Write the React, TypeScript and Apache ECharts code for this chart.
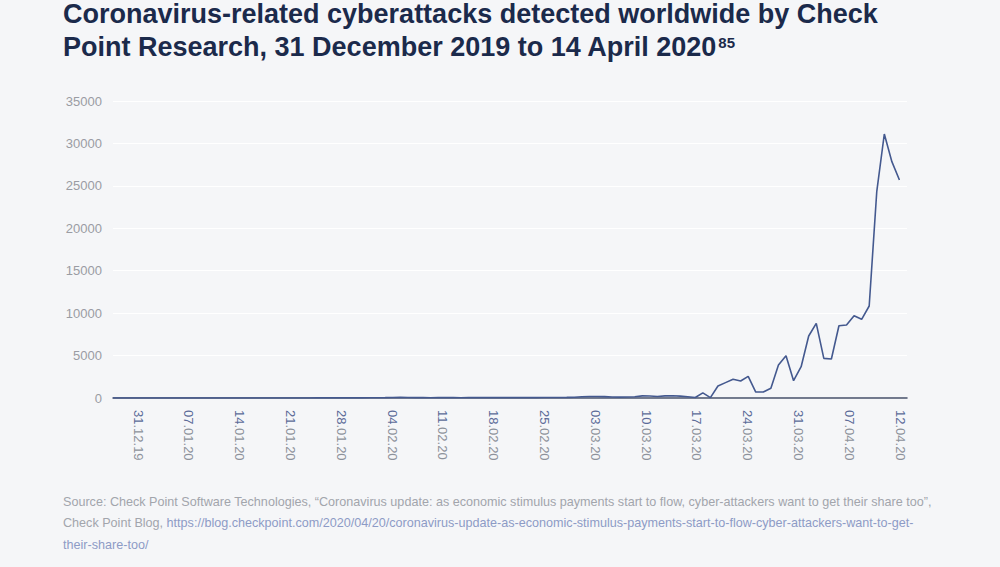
import React, { useEffect, useRef } from "react";
import * as echarts from "echarts";

// ---- data ----
const startDate = { y: 2019, m: 12, d: 31 };
const dayCount = 106; // 31.12.2019 .. 14.04.2020

const tickLabels = [
  "31.12.19", "07.01.20", "14.01.20", "21.01.20", "28.01.20", "04.02.20",
  "11.02.20", "18.02.20", "25.02.20", "03.03.20", "10.03.20", "17.03.20",
  "24.03.20", "31.03.20", "07.04.20", "12.04.20",
];

// daily number of detected coronavirus-related cyberattacks
const attacks = [
  0, 0, 0, 0, 0, 0, 0, 0, 0, 0,
  0, 0, 0, 0, 0, 0, 0, 0, 0, 0,
  0, 0, 0, 0, 0, 5, 5, 10, 10, 10,
  10, 15, 20, 20, 25, 30, 40, 60, 90, 60,
  40, 40, 35, 40, 45, 40, 35, 40, 45, 50,
  45, 50, 40, 45, 50, 55, 50, 60, 55, 60,
  70, 90, 150, 180, 170, 160, 120, 100, 110, 150,
  250, 230, 180, 250, 270, 220, 150, 60, 600, 50,
  1410, 1810, 2200, 2000, 2550, 700, 700, 1140, 3890, 4990,
  2040, 3690, 7310, 8800, 4670, 4600, 8520, 8600, 9700, 9270,
  10840, 24310, 31110, 27850, 25690,
];

const titleLine1 = "Coronavirus-related cyberattacks detected worldwide by Check";
const titleLine2 = "Point Research, 31 December 2019 to 14 April 2020";
const titleNote = "85";
const sourceLine1 =
  "Source: Check Point Software Technologies, \u201cCoronavirus update: as economic stimulus payments start to flow, cyber-attackers want to get their share too\u201d,";
const sourcePrefix2 = "Check Point Blog, ";
const sourceUrl1 =
  "https://blog.checkpoint.com/2020/04/20/coronavirus-update-as-economic-stimulus-payments-start-to-flow-cyber-attackers-want-to-get-";
const sourceUrl2 = "their-share-too/";

function buildDates(): string[] {
  const out: string[] = [];
  const dt = new Date(Date.UTC(startDate.y, startDate.m - 1, startDate.d));
  for (let i = 0; i < dayCount; i++) {
    const dd = String(dt.getUTCDate()).padStart(2, "0");
    const mm = String(dt.getUTCMonth() + 1).padStart(2, "0");
    const yy = String(dt.getUTCFullYear()).slice(2);
    out.push(`${dd}.${mm}.${yy}`);
    dt.setUTCDate(dt.getUTCDate() + 1);
  }
  return out;
}

const FONT = '"Liberation Sans", Arial, Helvetica, sans-serif';
const TITLE_SIZE = 27;
const TITLE_COLOR = "#1b2a4b";
const SOURCE_SIZE = 12.6;
const SOURCE_GREY = "#a2a5ac";
const SOURCE_LINK = "#8d9bc6";

export default function App() {
  const ref = useRef<HTMLDivElement>(null);

  useEffect(() => {
    if (!ref.current) return;
    const chart = echarts.init(ref.current, undefined, { renderer: "svg" });

    const canvas = document.createElement("canvas");
    const ctx = canvas.getContext("2d");
    let line2Width = 640;
    if (ctx) {
      ctx.font = `bold ${TITLE_SIZE}px ${FONT}`;
      line2Width = ctx.measureText(titleLine2).width;
    }

    const dates = buildDates();

    chart.setOption({
      animation: false,
      backgroundColor: "#f5f6f8",
      grid: [
        { left: 113, right: 93, top: 101, bottom: 169 },
        { left: 138, right: 100, top: 101, bottom: 169 },
      ],
      xAxis: [
        {
          type: "category",
          gridIndex: 0,
          data: dates,
          boundaryGap: false,
          axisLine: { lineStyle: { color: "#46506a", width: 1.5 } },
          axisTick: { show: false },
          axisLabel: { show: false },
          splitLine: { show: false },
        },
        {
          type: "category",
          gridIndex: 1,
          data: tickLabels,
          boundaryGap: false,
          axisLine: { show: false },
          axisTick: { show: false },
          splitLine: { show: false },
          axisLabel: {
            interval: 0,
            rotate: -90,
            margin: 12,
            formatter: (v: string) => `{d|${v.slice(0, 2)}}{r|${v.slice(2)}}`,
            rich: {
              d: { color: "#5c6b98", fontSize: 13, fontFamily: FONT },
              r: { color: "#8d929b", fontSize: 13, fontFamily: FONT },
            },
          },
        },
      ],
      yAxis: [
        {
          type: "value",
          gridIndex: 0,
          min: 0,
          max: 35000,
          interval: 5000,
          axisLine: { show: false },
          axisTick: { show: false },
          axisLabel: {
            color: "#9a9ca3",
            fontSize: 13,
            fontFamily: FONT,
            margin: 11,
            formatter: (v: number) => String(v),
          },
          splitLine: { show: true, lineStyle: { color: "#ffffff", width: 1 } },
        },
        {
          type: "value",
          gridIndex: 1,
          show: false,
          min: 0,
          max: 1,
        },
      ],
      series: [
        {
          type: "line",
          xAxisIndex: 0,
          yAxisIndex: 0,
          data: attacks,
          symbol: "none",
          lineStyle: { color: "#44598f", width: 1.6 },
          z: 3,
        },
      ],
      graphic: [
        {
          type: "text",
          x: 63,
          y: 14,
          style: {
            text: titleLine1,
            fill: TITLE_COLOR,
            fontSize: TITLE_SIZE,
            fontWeight: "bold",
            fontFamily: FONT,
            verticalAlign: "middle",
          },
        },
        {
          type: "text",
          x: 63,
          y: 47,
          style: {
            text: titleLine2,
            fill: TITLE_COLOR,
            fontSize: TITLE_SIZE,
            fontWeight: "bold",
            fontFamily: FONT,
            verticalAlign: "middle",
          },
        },
        {
          type: "text",
          x: 63 + line2Width + 1,
          y: 35,
          style: {
            text: titleNote,
            fill: TITLE_COLOR,
            fontSize: 15,
            fontWeight: "bold",
            fontFamily: FONT,
            verticalAlign: "top",
          },
        },
        {
          type: "text",
          x: 63,
          y: 502,
          style: {
            text: sourceLine1,
            fill: SOURCE_GREY,
            fontSize: SOURCE_SIZE,
            fontFamily: FONT,
            verticalAlign: "middle",
          },
        },
        {
          type: "text",
          x: 63,
          y: 523,
          style: {
            text: `{g|${sourcePrefix2}}{l|${sourceUrl1}}`,
            fontSize: SOURCE_SIZE,
            fontFamily: FONT,
            verticalAlign: "middle",
            rich: {
              g: { fill: SOURCE_GREY, fontSize: SOURCE_SIZE, fontFamily: FONT },
              l: { fill: SOURCE_LINK, fontSize: SOURCE_SIZE, fontFamily: FONT },
            },
          },
        },
        {
          type: "text",
          x: 63,
          y: 545,
          style: {
            text: sourceUrl2,
            fill: SOURCE_LINK,
            fontSize: SOURCE_SIZE,
            fontFamily: FONT,
            verticalAlign: "middle",
          },
        },
      ],
    });

    return () => chart.dispose();
  }, []);

  return (
    <div
      ref={ref}
      style={{ position: "fixed", left: 0, top: 0, width: 1000, height: 567 }}
    />
  );
}
